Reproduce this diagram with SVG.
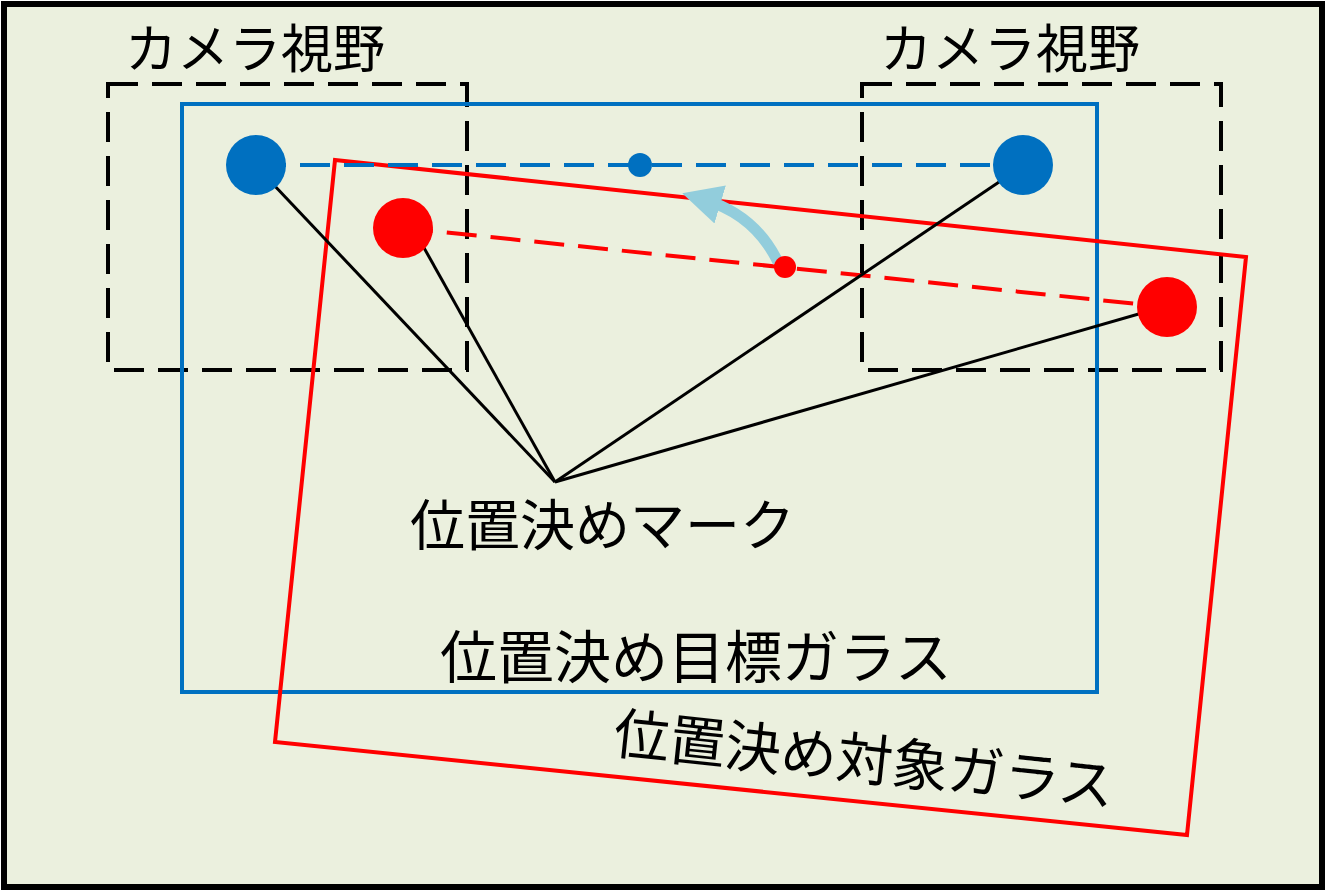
<svg xmlns="http://www.w3.org/2000/svg" width="1326" height="891" viewBox="0 0 1326 891">
<style>
.t{font-family:"Noto Sans CJK JP",sans-serif;font-size:50px;fill:#000}
.cam{fill:none;stroke:#000;stroke-width:4;stroke-dasharray:30,14}
.ln{stroke:#000;stroke-width:3}
</style>
<defs>
<marker id="ah" viewBox="0 0 10 10" refX="4" refY="5" markerWidth="3.6" markerHeight="3.6" orient="auto" markerUnits="strokeWidth">
<path d="M0,0 L10,5 L0,10 z" fill="#92cddc"/>
</marker>
</defs>
<rect x="4" y="4" width="1318" height="883" fill="#ebf0de" stroke="#000" stroke-width="6"/>
<g id="cam-left"><rect class="cam" x="108" y="84" width="359" height="286"/><text class="t" x="125" y="68" style="font-size:52px">カメラ視野</text></g>
<g id="cam-right"><rect class="cam" x="862" y="84" width="359" height="286"/><text class="t" x="880" y="68" style="font-size:52px">カメラ視野</text></g>
<g id="target-glass"><rect x="182" y="104" width="915" height="588" fill="none" stroke="#0070c0" stroke-width="4"/><text class="t" x="440" y="678" style="font-size:57px">位置決め目標ガラス</text></g>
<g id="object-glass"><polygon points="335,160 1246,257 1187,835 275,742" fill="none" stroke="#ff0000" stroke-width="4"/><text class="t" transform="translate(612,753) rotate(6.1)" style="font-size:56px">位置決め対象ガラス</text></g>
<g id="connectors">
<line x1="256" y1="165" x2="1023" y2="165" stroke="#0070c0" stroke-width="4" stroke-dasharray="30,14"/>
<line x1="403" y1="228" x2="1167" y2="307" stroke="#ff0000" stroke-width="4" stroke-dasharray="30,14"/>
<line class="ln" x1="555" y1="482" x2="272" y2="183"/>
<line class="ln" x1="555" y1="482" x2="423" y2="246"/>
<line class="ln" x1="555" y1="482" x2="1002" y2="180"/>
<line class="ln" x1="555" y1="482" x2="1163" y2="307"/>
<path d="M778,262 Q755,215 705,200" fill="none" stroke="#92cddc" stroke-width="11" marker-end="url(#ah)"/>
</g>
<g id="marks">
<circle cx="256" cy="165" r="30" fill="#0070c0"/>
<circle cx="1023" cy="165" r="30" fill="#0070c0"/>
<circle cx="640" cy="165" r="12" fill="#0070c0"/>
<circle cx="403" cy="228" r="30" fill="#ff0000"/>
<circle cx="1167" cy="307" r="30" fill="#ff0000"/>
<circle cx="785" cy="267" r="11" fill="#ff0000"/>
</g>
<g id="mark-label"><text class="t" x="410" y="545" style="font-size:55px">位置決めマーク</text></g>
</svg>
